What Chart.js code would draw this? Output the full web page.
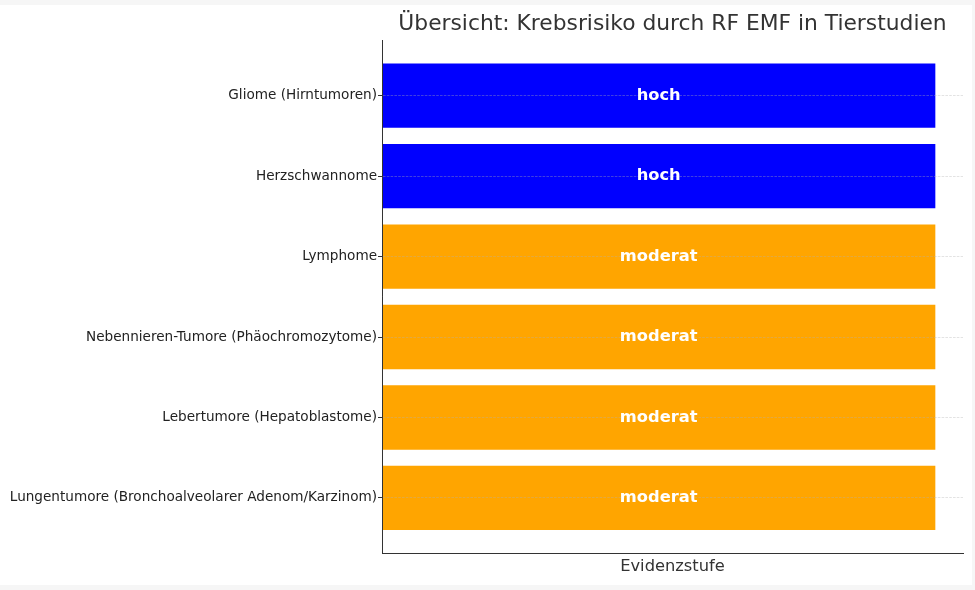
<!DOCTYPE html>
<html>
<head>
<meta charset="utf-8">
<script src="https://cdn.jsdelivr.net/npm/chart.js@4/dist/chart.umd.min.js"></script>
<style>
  html, body { margin: 0; padding: 0; background: #f6f6f6; }
  #wrap { position: absolute; left: 0; top: 5px; width: 972px; height: 580px; background: #ffffff; }
</style>
</head>
<body>
<div id="wrap"><canvas id="c" width="972" height="580"></canvas></div>
<script>
const chartTitle = 'Übersicht: Krebsrisiko durch RF EMF in Tierstudien';
const xAxisTitle = 'Evidenzstufe';
const categories = [
  'Gliome (Hirntumoren)',
  'Herzschwannome',
  'Lymphome',
  'Nebennieren-Tumore (Phäochromozytome)',
  'Lebertumore (Hepatoblastome)',
  'Lungentumore (Bronchoalveolarer Adenom/Karzinom)'
];
const evidence = ['hoch', 'hoch', 'moderat', 'moderat', 'moderat', 'moderat'];
const values = [1, 1, 1, 1, 1, 1];
const levelColors = { hoch: '#0000ff', moderat: '#ffa500' };

Chart.defaults.font.family = "'DejaVu Sans', sans-serif";

const barLabelPlugin = {
  id: 'barLabels',
  afterDraw(chart) {
    const ctx = chart.ctx;
    const meta = chart.getDatasetMeta(0);
    ctx.save();
    ctx.font = "bold 16.3px 'DejaVu Sans'";
    ctx.fillStyle = '#ffffff';
    ctx.textAlign = 'center';
    ctx.textBaseline = 'middle';
    meta.data.forEach((bar, i) => {
      const cx = (bar.x + bar.base) / 2;
      ctx.fillText(evidence[i], cx, bar.y);
    });
    ctx.restore();
  }
};

new Chart(document.getElementById('c'), {
  type: 'bar',
  data: {
    datasets: [{
      data: values.map((v, i) => ({ x: v, y: i })),
      backgroundColor: evidence.map(e => levelColors[e]),
      borderWidth: 0,
      categoryPercentage: 1,
      barPercentage: 0.8
    }]
  },
  options: {
    indexAxis: 'y',
    responsive: false,
    animation: false,
    layout: { padding: { top: 0, right: 9, bottom: 4, left: 0 } },
    plugins: {
      legend: { display: false },
      tooltip: { enabled: false },
      title: {
        display: true,
        text: chartTitle,
        fullSize: false,
        color: '#333333',
        font: { size: 21.8, weight: 'normal' },
        padding: { top: 6, bottom: 3 }
      }
    },
    scales: {
      x: {
        type: 'linear',
        min: 0,
        max: 1.05,
        offset: false,
        ticks: { display: false },
        grid: { display: false, drawTicks: false, offset: false },
        border: { display: true, color: '#333333', width: 1 },
        title: {
          display: true,
          text: xAxisTitle,
          color: '#333333',
          font: { size: 16.3 },
          padding: { top: 4, bottom: 4 }
        }
      },
      y: {
        type: 'linear',
        reverse: true,
        min: -0.69,
        max: 5.69,
        offset: false,
        afterBuildTicks: (scale) => { scale.ticks = categories.map((_, i) => ({ value: i })); },
        afterFit: (scale) => { scale.width = 382; },
        ticks: {
          color: '#222222',
          font: { size: 13.6 },
          padding: 1,
          callback: (v) => categories[v]
        },
        grid: {
          z: 1,
          offset: false,
          color: 'rgba(176,176,176,0.45)',
          lineWidth: 0.8,
          drawTicks: true,
          tickLength: 4,
          tickColor: '#333333',
          tickWidth: 1,
          tickBorderDash: []
        },
        border: { display: true, z: 2, color: '#333333', width: 1, dash: [2.6, 1.2] }
      }
    }
  },
  plugins: [barLabelPlugin]
});
</script>
</body>
</html>
